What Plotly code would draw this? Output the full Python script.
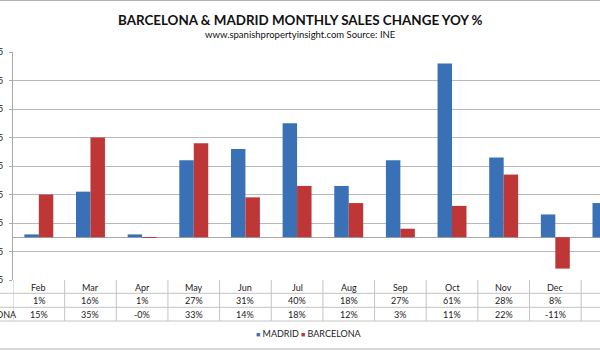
import plotly.graph_objects as go

# ---- data ----
months = ["Feb", "Mar", "Apr", "May", "Jun", "Jul", "Aug", "Sep", "Oct", "Nov", "Dec", "Jan"]
madrid = [1, 16, 1, 27, 31, 40, 18, 27, 61, 28, 8, 12]
barcelona = [15, 35, -0.1, 33, 14, 18, 12, 3, 11, 22, -11, None]
y_ticks = [-15, -5, 5, 15, 25, 35, 45, 55, 65]
series_names = ["MADRID", "BARCELONA"]

BLUE = "#3a70b6"
RED = "#bf3636"
GRID = "#b9b9b9"
TABLE = "#c4c4c4"
FONT = "Lato"

W, H = 600, 350
ML, MR, MT, MB = 13, 0, 52, 70
plot_w = W - ML - MR
plot_h = H - MT - MB
cat_px = 51.65

def py(p):
    """pixel y (from top) -> paper y"""
    return (H - MB - p) / plot_h

def px(p):
    """pixel x (from left) -> paper x"""
    return (p - ML) / plot_w

fig = go.Figure()
fig.add_bar(x=months, y=madrid, name=series_names[0], marker=dict(color=BLUE, line=dict(width=0)))
fig.add_bar(x=months, y=barcelona, name=series_names[1], marker=dict(color=RED, line=dict(width=0)))

shapes = []
annotations = []

def ann(**kw):
    kw.setdefault("showarrow", False)
    kw.setdefault("yanchor", "middle")
    kw.setdefault("yref", "paper")
    annotations.append(kw)

# titles
ann(text="<b>BARCELONA & MADRID MONTHLY SALES CHANGE YOY %</b>", xref="paper",
    x=px(300), y=py(20), font=dict(family=FONT, size=13.4, color="#111"))
ann(text="www.spanishpropertyinsight.com Source: INE", xref="paper",
    x=px(300), y=py(34.5), font=dict(family=FONT, size=9.5, color="#111"))

# data table below the plot
row_y_lines = [293.3, 307.3, 321]
for p in row_y_lines:
    shapes.append(dict(type="line", xref="paper", yref="paper", x0=px(0), x1=1, y0=py(p), y1=py(p),
                       line=dict(color=TABLE, width=1)))
for k in range(len(months) + 1):
    shapes.append(dict(type="line", xref="x", yref="paper", x0=k - 0.5, x1=k - 0.5, y0=0, y1=py(321),
                       line=dict(color=TABLE, width=1)))

tfont = dict(family=FONT, size=9, color="#222")
for i, m in enumerate(months):
    ann(text=m, x=i, xref="x", y=py(287), font=tfont)
    if madrid[i] is not None:
        ann(text=f"{madrid[i]:.0f}%", x=i, xref="x", y=py(300.8), font=tfont)
    if barcelona[i] is not None:
        ann(text=f"{barcelona[i]:.0f}%", x=i, xref="x", y=py(314.5), font=tfont)
# row headers (mostly cut off at the left edge)
for name, yy in zip(series_names, [300.8, 314.5]):
    ann(text=name, xref="paper", x=px(-39), y=py(yy), xanchor="left", font=tfont)

# legend
for name, col, xl in zip(series_names, [BLUE, RED], [254, 298.5]):
    ann(text=f'<span style="color:{col};font-size:7px">■</span> {name}',
        xref="paper", x=px(xl), y=py(333.5), xanchor="left", font=tfont)

# chart border lines
for p in [0.5, 349]:
    shapes.append(dict(type="line", xref="paper", yref="paper", x0=px(0), x1=px(600), y0=py(p), y1=py(p),
                       line=dict(color="#b0b0b0", width=1)))

fig.update_layout(
    template="none",
    width=W, height=H,
    margin=dict(l=ML, r=MR, t=MT, b=MB),
    paper_bgcolor="white", plot_bgcolor="white",
    barmode="group", bargap=0.44, bargroupgap=0,
    showlegend=False,
    shapes=shapes, annotations=annotations,
    xaxis=dict(type="category", range=[-0.5, -0.5 + plot_w / cat_px], showticklabels=False,
               showgrid=False, zeroline=False, showline=False, ticks="", fixedrange=True, automargin=False),
    yaxis=dict(range=[-15, 65], tickvals=y_ticks, ticksuffix="%", showgrid=True, gridcolor=GRID, gridwidth=1,
               zeroline=True, zerolinecolor="#a8a8a8", zerolinewidth=1,
               showline=True, linecolor="#a8a8a8", linewidth=1, ticks="outside", ticklen=3, tickcolor="#a8a8a8",
               tickfont=dict(family=FONT, size=9, color="#222"), ticklabelstandoff=4, automargin=False,
               fixedrange=True),
)

fig.write_html("out.html")
